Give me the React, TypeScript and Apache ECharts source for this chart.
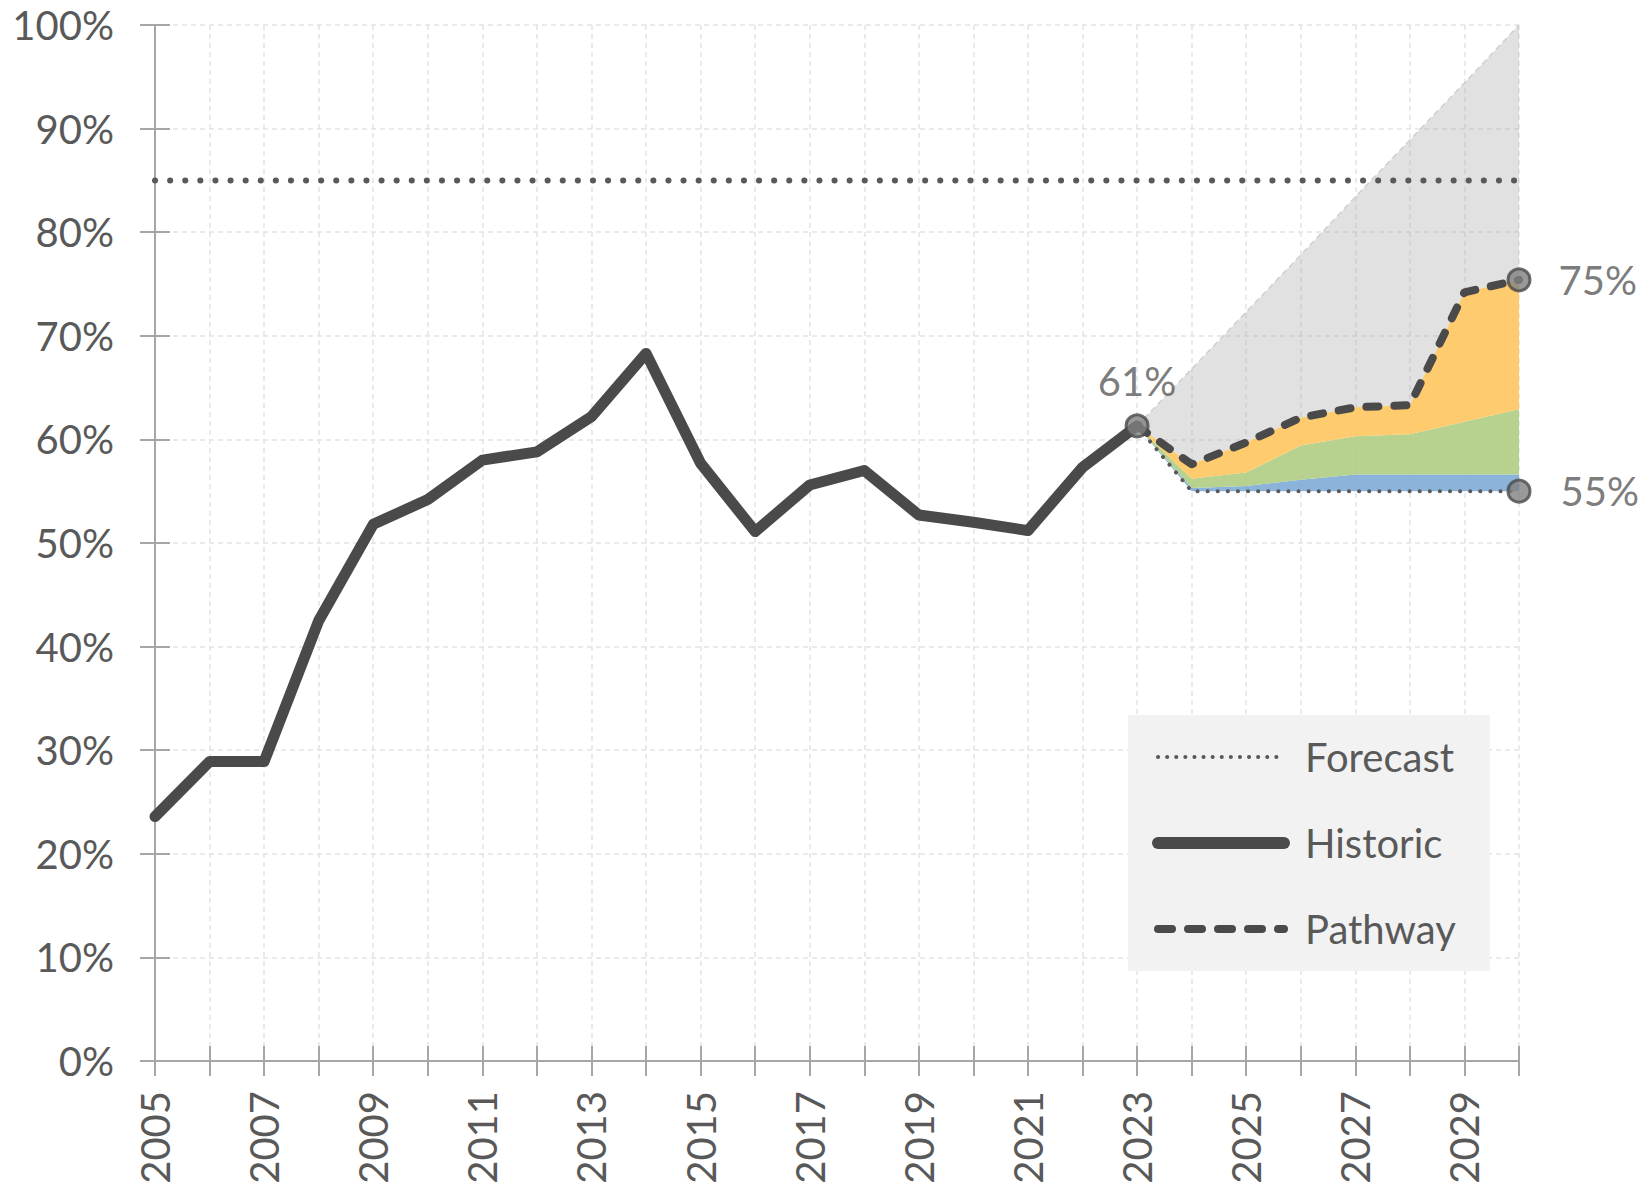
import React, { useEffect, useRef } from 'react';
import * as echarts from 'echarts';

const years = [
  '2005', '2006', '2007', '2008', '2009', '2010', '2011', '2012', '2013',
  '2014', '2015', '2016', '2017', '2018', '2019', '2020', '2021', '2022',
  '2023', '2024', '2025', '2026', '2027', '2028', '2029', '2030',
];

// Historic 2005–2023
const historic = [
  23.6, 28.9, 28.9, 42.5, 51.8, 54.2, 58.0, 58.8, 62.2, 68.3, 57.7, 51.1,
  55.6, 57.0, 52.7, 52.0, 51.2, 57.3, 61.3,
];

// Forecast period 2023–2030
const forecastStart = 18; // index of 2023
const forecast = [61.3, 55, 55, 55, 55, 55, 55, 55];
const blueTop = [61.3, 55.3, 55.5, 56.1, 56.6, 56.6, 56.6, 56.6];
const greenTop = [61.3, 56.2, 56.8, 59.4, 60.3, 60.5, 61.7, 62.9];
const pathway = [61.3, 57.6, 59.7, 62.1, 63.1, 63.3, 74.2, 75.4];
const ceiling = [61.3, 66.8, 72.3, 77.8, 83.4, 88.9, 94.4, 100];

const targetLevel = 85;

const FONT = "Lato, 'Noto Sans', sans-serif";
const TEXT = '#595959';
const AXIS = '#a6a6a6';
const GRIDC = '#e3e3e3';
const DARK = '#4a4a4a';

function pad(arr: number[], start: number): (number | null)[] {
  return years.map((_, i) => (i >= start && i - start < arr.length ? arr[i - start] : null));
}
function diff(a: number[], b: number[]): number[] {
  return a.map((v, i) => Math.round((v - b[i]) * 100) / 100);
}

const forecastLine = { color: TEXT, width: 4, type: [0.1, 10], cap: 'round' };
const pathwayLine = { color: DARK, width: 8, type: [12, 16], cap: 'round', join: 'round' };
const historicLine = { color: DARK, width: 11, cap: 'round', join: 'round' };

export default function App() {
  const ref = useRef<HTMLDivElement>(null);
  useEffect(() => {
    document.body.style.margin = '0';
    if (!ref.current) return;
    const chart = echarts.init(ref.current, null, { renderer: 'svg' });

    const areaSeries = (name: string, data: number[], color: string, extra: any = {}) => ({
      name,
      type: 'line',
      stack: 'fc',
      data: pad(data, forecastStart),
      symbol: 'none',
      silent: true,
      lineStyle: { width: 0, opacity: 0 },
      areaStyle: { color, opacity: 1 },
      z: 2,
      ...extra,
    });

    const last = forecast.length - 1;
    const option: any = {
      animation: false,
      backgroundColor: '#ffffff',
      textStyle: { fontFamily: FONT },
      grid: { left: 155, right: 133, top: 25, bottom: 135, containLabel: false },
      legend: {
        data: [
          { name: 'Forecast', lineStyle: { ...forecastLine, type: [0.1, 9] } },
          { name: 'Historic', lineStyle: { ...historicLine, width: 12 } },
          { name: 'Pathway', lineStyle: { ...pathwayLine, type: [14, 16] } },
        ],
        orient: 'vertical',
        left: 1128,
        top: 715,
        backgroundColor: '#f2f2f2',
        padding: [18, 34, 18, 24],
        itemWidth: 126,
        itemHeight: 20,
        itemGap: 38,
        selectedMode: false,
        itemStyle: { color: 'rgba(0,0,0,0)', borderWidth: 0 },
        textStyle: {
          fontSize: 40,
          color: TEXT,
          fontFamily: FONT,
          lineHeight: 48,
          padding: [0, 0, 0, 16],
        },
      },
      xAxis: [
        {
          type: 'category',
          data: years,
          boundaryGap: false,
          position: 'bottom',
          axisLine: { show: true, lineStyle: { color: AXIS, width: 2 } },
          axisTick: { show: true, interval: 0, length: 15, lineStyle: { color: AXIS, width: 2 } },
          axisLabel: {
            interval: 1,
            rotate: 90,
            fontSize: 40,
            color: TEXT,
            fontFamily: FONT,
            margin: 30,
          },
          splitLine: {
            show: true,
            interval: 0,
            lineStyle: { color: GRIDC, width: 1.5, type: [5, 4] },
          },
        },
        {
          type: 'category',
          data: years,
          boundaryGap: false,
          position: 'bottom',
          axisLine: { show: false },
          axisTick: { show: true, inside: true, interval: 0, length: 15, lineStyle: { color: AXIS, width: 2 } },
          axisLabel: { show: false },
          splitLine: { show: false },
        },
      ],
      yAxis: [
        {
          type: 'value',
          min: 0,
          max: 100,
          interval: 10,
          position: 'left',
          axisLine: { show: true, lineStyle: { color: AXIS, width: 2 } },
          axisTick: { show: true, length: 15, lineStyle: { color: AXIS, width: 2 } },
          axisLabel: {
            formatter: '{value}%',
            fontSize: 40,
            color: TEXT,
            fontFamily: FONT,
            margin: 41,
          },
          splitLine: { show: true, lineStyle: { color: GRIDC, width: 1.5, type: [5, 4] } },
        },
        {
          type: 'value',
          min: 0,
          max: 100,
          interval: 10,
          position: 'left',
          axisLine: { show: false },
          axisTick: { show: true, inside: true, length: 15, lineStyle: { color: AXIS, width: 2 } },
          axisLabel: { show: false },
          splitLine: { show: false },
        },
      ],
      series: [
        {
          name: 'Target',
          type: 'line',
          data: years.map(() => targetLevel),
          symbol: 'none',
          silent: true,
          lineStyle: { color: TEXT, width: 6, type: [0.1, 15], cap: 'round' },
          z: 5,
        },
        {
          name: 'base',
          type: 'line',
          stack: 'fc',
          data: pad(forecast, forecastStart),
          symbol: 'none',
          silent: true,
          lineStyle: { width: 0, opacity: 0 },
          z: 2,
        },
        areaSeries('blue', diff(blueTop, forecast), 'rgba(128,172,214,0.9)'),
        areaSeries('green', diff(greenTop, blueTop), 'rgba(175,205,131,0.9)'),
        areaSeries('yellow', diff(pathway, greenTop), 'rgba(254,198,94,0.9)'),
        areaSeries('gray', diff(ceiling, pathway), 'rgba(169,169,169,0.35)', {
          lineStyle: { width: 1.5, color: '#cfcfcf', type: [6, 4], opacity: 1 },
        }),
        {
          name: 'Forecast',
          type: 'line',
          data: pad(forecast, forecastStart),
          symbol: 'none',
          itemStyle: { color: TEXT },
          lineStyle: forecastLine,
          z: 6,
        },
        {
          name: 'Pathway',
          type: 'line',
          data: pad(pathway, forecastStart),
          symbol: 'none',
          itemStyle: { color: DARK },
          lineStyle: pathwayLine,
          z: 7,
        },
        {
          name: 'Historic',
          type: 'line',
          data: pad(historic, 0),
          symbol: 'none',
          itemStyle: { color: DARK },
          lineStyle: historicLine,
          z: 8,
        },
        {
          name: 'markers',
          type: 'scatter',
          symbol: 'circle',
          symbolSize: 22,
          silent: true,
          z: 10,
          itemStyle: { color: '#7f7f7f', borderColor: DARK, borderWidth: 3 },
          label: {
            show: true,
            fontSize: 40,
            fontFamily: FONT,
            color: TEXT,
            lineHeight: 40,
            formatter: (p: any) => `${Math.round(p.value[1])}%`,
          },
          data: [
            { value: [years[forecastStart], historic[historic.length - 1]], label: { position: 'top', distance: 12 } },
            { value: [years[years.length - 1], pathway[last]], label: { position: 'right', distance: 27 } },
            { value: [years[years.length - 1], forecast[last]], label: { position: 'right', distance: 29 } },
          ],
        },
      ],
    };
    chart.setOption(option);
    return () => chart.dispose();
  }, []);
  return <div ref={ref} style={{ width: 1652, height: 1196 }} />;
}
